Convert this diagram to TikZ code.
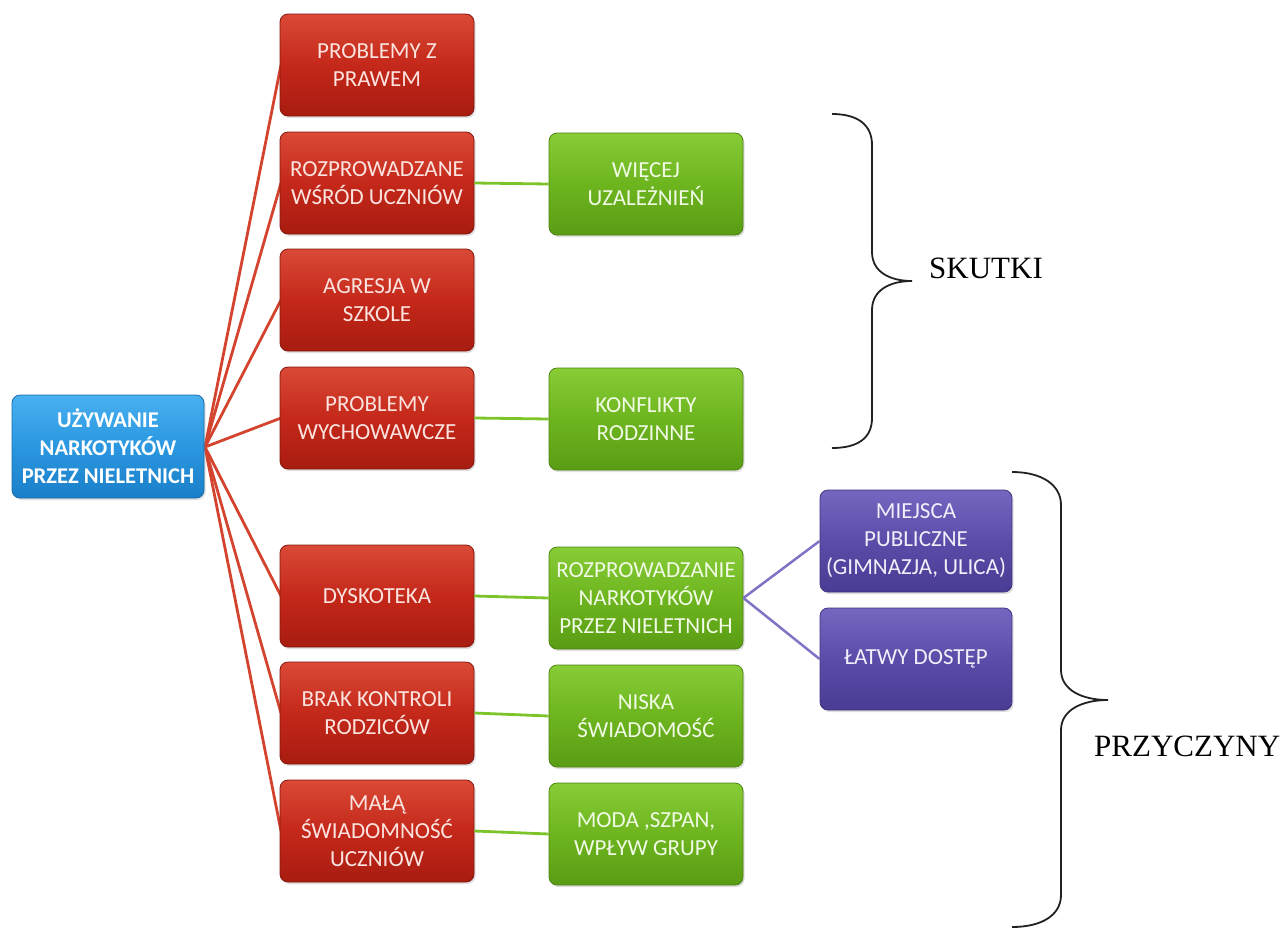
\documentclass[tikz,border=0pt]{standalone}
\usepackage{fontspec}
\setmainfont{Liberation Serif}
\newfontfamily\boxfont{Carlito}
\usetikzlibrary{shadows}
\definecolor{redtop}{HTML}{DA4A36}
\definecolor{redmid}{HTML}{C4281A}
\definecolor{redbot}{HTML}{A81C10}
\definecolor{redline}{HTML}{D3432E}
\definecolor{grtop}{HTML}{88CC36}
\definecolor{grmid}{HTML}{6DB51F}
\definecolor{grbot}{HTML}{5A9C14}
\definecolor{grline}{HTML}{7CC42A}
\definecolor{bltop}{HTML}{48B0F0}
\definecolor{blmid}{HTML}{2A97E0}
\definecolor{blbot}{HTML}{1A7FC8}
\definecolor{putop}{HTML}{7566C0}
\definecolor{pumid}{HTML}{5A4CA8}
\definecolor{pubot}{HTML}{493C94}
\definecolor{puline}{HTML}{8072C4}
\definecolor{bracecol}{HTML}{222222}
\definecolor{redtext}{HTML}{FBE4E0}
\definecolor{grtext}{HTML}{F0FAE4}
\definecolor{putext}{HTML}{F2EEFA}
\tikzset{
  box/.style={rectangle, rounded corners=8pt, minimum width=194pt, minimum height=102pt,
    inner sep=0pt, align=center, text=white,
    font=\boxfont\fontsize{23}{28}\selectfont,
    drop shadow={shadow xshift=1.5pt, shadow yshift=-2pt, opacity=0.25}},
  redbox/.style={box, top color=redtop, bottom color=redbot, middle color=redmid, draw=redbot!80!black, line width=0.8pt, text=redtext},
  greenbox/.style={box, top color=grtop, bottom color=grbot, middle color=grmid, draw=grbot!85!black, line width=0.8pt, text=grtext},
  bluebox/.style={box, top color=bltop, bottom color=blbot, middle color=blmid, draw=blbot!85!black, line width=0.8pt,
    font=\boxfont\bfseries\fontsize{22.5}{28}\selectfont},
  purplebox/.style={box, top color=putop, bottom color=pubot, middle color=pumid, draw=pubot!85!black, line width=0.8pt, text=putext},
  redcon/.style={draw=redline, line width=2.8pt},
  grcon/.style={draw=grline, line width=2.8pt},
  pucon/.style={draw=puline, line width=2.5pt},
  bracepath/.style={draw=bracecol, line width=1.8pt},
  bracelabel/.style={font=\fontsize{31}{36}\selectfont, text=black, inner sep=0pt}
}
\begin{document}
\begin{tikzpicture}[x=1pt, y=-1pt]
\useasboundingbox (0,0) rectangle (1287,929);
% connectors first (behind nodes)
\coordinate (hub) at (205,447);
\coordinate (r1w) at (281,65);
\coordinate (r2w) at (281,183);
\coordinate (r3w) at (281,300);
\coordinate (r4w) at (281,418);
\coordinate (r5w) at (281,596);
\coordinate (r6w) at (281,713);
\coordinate (r7w) at (281,831);
\draw[redcon] (hub) -- (r1w);
\draw[redcon] (hub) -- (r2w);
\draw[redcon] (hub) -- (r3w);
\draw[redcon] (hub) -- (r4w);
\draw[redcon] (hub) -- (r5w);
\draw[redcon] (hub) -- (r6w);
\draw[redcon] (hub) -- (r7w);

\node[bluebox, minimum width=192pt, minimum height=103pt] (blue) at (108,446.5) {UŻYWANIE\\NARKOTYKÓW\\PRZEZ NIELETNICH};

\node[redbox] (r1) at (377,65) {PROBLEMY Z\\PRAWEM};
\node[redbox] (r2) at (377,183) {ROZPROWADZANE\\WŚRÓD UCZNIÓW};
\node[redbox] (r3) at (377,300) {AGRESJA W\\SZKOLE};
\node[redbox] (r4) at (377,418) {PROBLEMY\\WYCHOWAWCZE};
\node[redbox] (r5) at (377,596) {DYSKOTEKA};
\node[redbox] (r6) at (377,713) {BRAK KONTROLI\\RODZICÓW};
\node[redbox] (r7) at (377,831) {MAŁĄ\\ŚWIADOMNOŚĆ\\UCZNIÓW};

\node[greenbox] (g1) at (646,184) {WIĘCEJ\\UZALEŻNIEŃ};
\node[greenbox] (g2) at (646,419) {KONFLIKTY\\RODZINNE};
\node[greenbox] (g3) at (646,598) {ROZPROWADZANIE\\NARKOTYKÓW\\PRZEZ NIELETNICH};
\node[greenbox] (g4) at (646,716) {NISKA\\ŚWIADOMOŚĆ};
\node[greenbox] (g5) at (646,834) {MODA ,SZPAN,\\WPŁYW GRUPY};

\node[purplebox, minimum width=192pt] (p1) at (916,541) {MIEJSCA\\PUBLICZNE\\(GIMNAZJA, ULICA)};
\node[purplebox, minimum width=192pt] (p2) at (916,659) {ŁATWY DOSTĘP};

\draw[grcon] (r2.east) -- (g1.west);
\draw[grcon] (r4.east) -- (g2.west);
\draw[grcon] (r5.east) -- (g3.west);
\draw[grcon] (r6.east) -- (g4.west);
\draw[grcon] (r7.east) -- (g5.west);
\draw[pucon] (g3.east) -- (p1.west);
\draw[pucon] (g3.east) -- (p2.west);

% braces
\draw[bracepath] (832,114) .. controls (858,114) and (872,125) .. (872,145) -- (872,252)
  .. controls (872,272) and (890,281) .. (912,281)
  .. controls (890,281) and (872,290) .. (872,310) -- (872,418)
  .. controls (872,438) and (858,448) .. (832,448);
\node[bracelabel, anchor=west] (skutki) at (929,268) {SKUTKI};

\draw[bracepath] (1012,472) .. controls (1042,472) and (1061,485) .. (1061,505) -- (1061,670)
  .. controls (1061,690) and (1082,700) .. (1108,700)
  .. controls (1082,700) and (1061,710) .. (1061,730) -- (1061,895)
  .. controls (1061,915) and (1042,927) .. (1012,927);
\node[bracelabel, anchor=west] (przyczyny) at (1094,746) {PRZYCZYNY};
\end{tikzpicture}
\end{document}
